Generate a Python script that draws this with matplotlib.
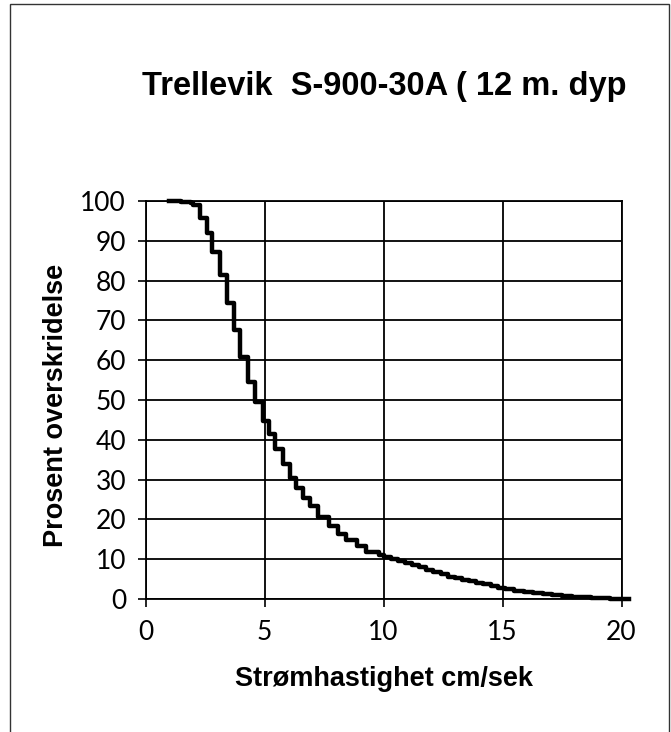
import matplotlib
matplotlib.use('Agg')
import matplotlib.pyplot as plt
from matplotlib.patches import Rectangle

# --- chart data ---
speed_cms = [1.0, 1.5, 1.9, 2.0, 2.28, 2.59, 2.80, 3.12, 3.42, 3.70, 3.95,
             4.30, 4.58, 4.92, 5.17, 5.46, 5.77, 6.07, 6.33, 6.60, 6.92,
             7.23, 7.72, 8.07, 8.42, 8.90, 9.25, 9.81,
             10.0, 10.3, 10.6, 10.9, 11.2, 11.5, 11.8, 12.1, 12.4, 12.7,
             13.0, 13.3, 13.6, 13.9, 14.2, 14.5, 14.8, 15.1, 15.5, 15.9,
             16.3, 16.7, 17.1, 17.5, 17.9, 18.3, 18.7, 19.1, 19.5, 19.9, 20.3]
exceed_pct = [100, 99.8, 99.5, 99.0, 95.7, 91.9, 87.3, 81.5, 74.4, 67.7, 60.7,
              54.6, 49.4, 44.8, 41.5, 37.6, 33.8, 30.5, 28.0, 25.4, 23.4,
              20.5, 18.4, 16.3, 14.8, 13.4, 11.9, 11.1,
              10.5, 10.0, 9.5, 9.0, 8.5, 8.0, 7.4, 6.8, 6.2, 5.6,
              5.2, 4.8, 4.4, 4.1, 3.7, 3.3, 2.8, 2.4, 2.1, 1.8,
              1.5, 1.25, 1.0, 0.8, 0.6, 0.45, 0.3, 0.2, 0.1, 0.0, 0.0]
x_ticks = [0, 5, 10, 15, 20]
y_ticks = list(range(0, 101, 10))

TITLE = "Trellevik  S-900-30A ( 12 m. dyp"
XLABEL = "Strømhastighet cm/sek"
YLABEL = "Prosent overskridelse"

W, H = 671, 732
fig = plt.figure(figsize=(W / 100, H / 100), dpi=100)
ax = fig.add_axes([145.5 / W, 1 - 599 / H, 476 / W, 398 / H])

ax.plot(speed_cms, exceed_pct, drawstyle='steps-post', color='black',
        lw=3.2, clip_on=False, zorder=3)

ax.set_xlim(0, 20)
ax.set_ylim(0, 100)
ax.set_xticks(x_ticks)
ax.set_yticks(y_ticks)
ax.grid(True, color='black', lw=1.3)
ax.set_axisbelow(True)
for s in ax.spines.values():
    s.set_color('black')
    s.set_linewidth(1.3)

ax.tick_params(direction='out', length=6, width=1.2, color='black',
               labelsize=19, labelcolor='black')
ax.tick_params(axis='x', pad=9)
ax.tick_params(axis='y', pad=8)
for lbl in ax.get_xticklabels() + ax.get_yticklabels():
    lbl.set_fontfamily(['Lato', 'DejaVu Sans'])

lab_font = dict(family='Liberation Sans', weight='bold', fontsize=19.5)
# axis titles placed by baseline to follow the scan
fig.text(384 / W, 1 - 686 / H, XLABEL, ha='center', va='baseline', **lab_font)
fig.text(63 / W, 1 - 405 / H, YLABEL, ha='center', va='baseline',
         rotation=90, rotation_mode='anchor', **lab_font)

fig.text(142 / W, 1 - 95 / H, TITLE, ha='left', va='baseline',
         family='Liberation Sans', weight='bold', fontsize=23.5)

# outer frame of the scanned page (runs off the bottom edge)
fig.patches.append(Rectangle((10 / W, -0.05), (669 - 10) / W, 1.05 - 4 / H,
                             transform=fig.transFigure, fill=False,
                             edgecolor='#333333', lw=1.0))

fig.savefig('out.png', dpi=100)
